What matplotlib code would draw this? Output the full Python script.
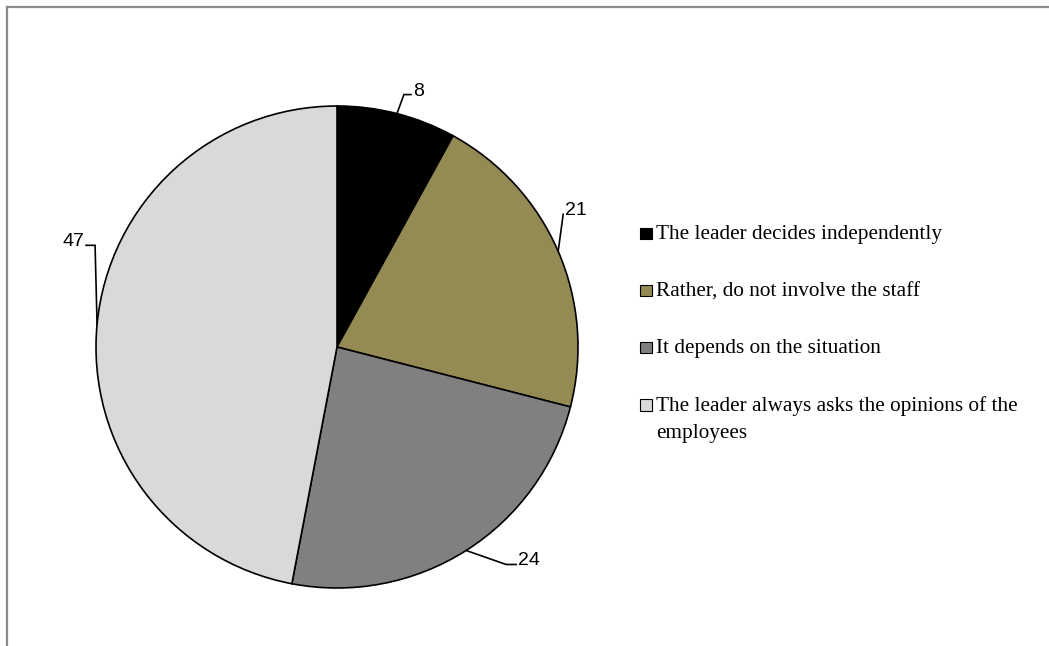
"""Pie chart: how decisions are taken by the leader (share of answers, %)."""

import matplotlib
matplotlib.use("Agg")
import matplotlib.pyplot as plt
import numpy as np
from matplotlib.lines import Line2D
from matplotlib.patches import Rectangle


categories = [
    "The leader decides independently",
    "Rather, do not involve the staff",
    "It depends on the situation",
    "The leader always asks the opinions of the\nemployees",
]
values = [8, 21, 24, 47]
colors = ["#000000", "#948A54", "#808080", "#D9D9D9"]

# leader-line geometry in pixels: (elbow dx, elbow dy, horizontal run)
leaders = [(7, -19, 7), (5, -37, 0), (40, 14, 10), (-2, -79, -9)]

W, H = 1049, 646
CX, CY, R = 337, 347, 241


def main() -> None:
    fig = plt.figure(figsize=(W / 100, H / 100), dpi=100)
    ax = fig.add_axes([(CX - R) / W, (H - CY - R) / H, 2 * R / W, 2 * R / H])
    wedges, _ = ax.pie(
        values, colors=colors, startangle=90, counterclock=False, radius=1,
        wedgeprops={"edgecolor": "#000000", "linewidth": 1.2},
    )
    ax.set_xlim(-1, 1)
    ax.set_ylim(-1, 1)
    ax.set_aspect("equal")
    ax.axis("off")

    px = 1 / R
    for wedge, value, (dx, dy, run) in zip(wedges, values, leaders):
        mid = np.deg2rad((wedge.theta1 + wedge.theta2) / 2)
        x0, y0 = np.cos(mid), np.sin(mid)
        x1, y1 = x0 + dx * px, y0 - dy * px
        x2 = x1 + run * px
        ax.plot([x0, x1, x2], [y0, y1, y1], color="#000000", linewidth=1.2,
                clip_on=False, solid_joinstyle="miter")
        ha = "right" if run < 0 else "left"
        gap = (-2 if run < 0 else 2) * px
        ax.text(x2 + gap, y1 - 1 * px, str(value), ha=ha, va="baseline",
                fontsize=14, family="Liberation Sans", color="#000000")

    # legend drawn by hand so the two-line entry keeps its box on the first line
    for i, (label, color) in enumerate(zip(categories, colors)):
        base = 239 + 57.2 * i
        fig.add_artist(Rectangle(
            (640 / W, 1 - base / H), 11.5 / W, 11.5 / H, facecolor=color,
            edgecolor="#000000", linewidth=0.8, transform=fig.transFigure,
        ))
        for j, line in enumerate(label.split("\n")):
            fig.text(656 / W, 1 - (base + 27.5 * j) / H, line, ha="left",
                     va="baseline", fontsize=15.3, family="Liberation Serif")

    border = dict(color="#8c8c8c", linewidth=1.6, transform=fig.transFigure)
    fig.add_artist(Line2D([7 / W, 1], [1 - 7 / H, 1 - 7 / H], **border))
    fig.add_artist(Line2D([7 / W, 7 / W], [0, 1 - 7 / H], **border))

    fig.savefig("out.png", dpi=100, facecolor="white")
    plt.close(fig)


if __name__ == "__main__":
    main()
